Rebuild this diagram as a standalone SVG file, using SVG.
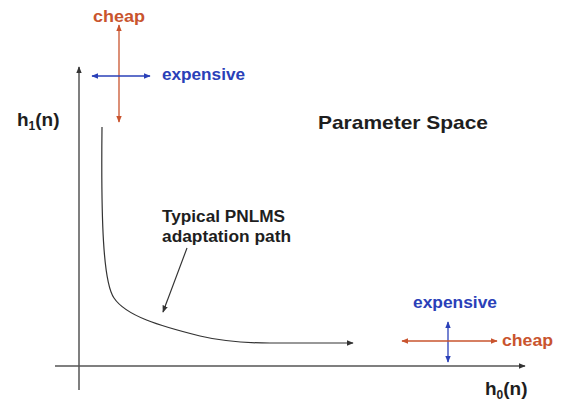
<svg xmlns="http://www.w3.org/2000/svg" width="570" height="402" viewBox="0 0 570 402">
<style>
text{font-family:"Liberation Sans",Arial,sans-serif;font-weight:bold}
.blk{fill:#1e1e1e}
.red{fill:#c9542e}
.blu{fill:#2a40b8}
.ax{stroke:#555;stroke-width:1.5;fill:none}
.cur{stroke:#333;stroke-width:1.2;fill:none}
.ra{stroke:#c9542e;stroke-width:1.3;fill:none}
.ba{stroke:#2a40b8;stroke-width:1.3;fill:none}
</style>
<defs>
<marker id="mk" viewBox="0 0 10 10" refX="9" refY="5" markerWidth="7" markerHeight="7" markerUnits="userSpaceOnUse" orient="auto-start-reverse"><path d="M0,1 L10,5 L0,9 z" fill="#333"/></marker>
<marker id="mr" viewBox="0 0 10 10" refX="9" refY="5" markerWidth="7" markerHeight="7" markerUnits="userSpaceOnUse" orient="auto-start-reverse"><path d="M0,1 L10,5 L0,9 z" fill="#c9542e"/></marker>
<marker id="mb" viewBox="0 0 10 10" refX="9" refY="5" markerWidth="7" markerHeight="7" markerUnits="userSpaceOnUse" orient="auto-start-reverse"><path d="M0,1 L10,5 L0,9 z" fill="#2a40b8"/></marker>
</defs>
<rect width="570" height="402" fill="#fff"/>
<g id="connectors">
<line class="ax" x1="79" y1="390" x2="79" y2="67" marker-end="url(#mk)"/>
<line class="ax" x1="55" y1="366" x2="525" y2="366" marker-end="url(#mk)"/>
<path class="cur" d="M102,127 C101,220 103,282 114,298 C126,316 160,326 200,336 C225,342 245,343 270,343 L353,343" marker-end="url(#mk)"/>
<line class="cur" x1="187" y1="248" x2="163" y2="312" marker-end="url(#mk)"/>
<line class="ra" x1="119" y1="25" x2="119" y2="122" marker-start="url(#mr)" marker-end="url(#mr)"/>
<line class="ba" x1="92" y1="76" x2="150" y2="76" marker-start="url(#mb)" marker-end="url(#mb)"/>
<line class="ba" x1="448" y1="322" x2="448" y2="362" marker-start="url(#mb)" marker-end="url(#mb)"/>
<line class="ra" x1="402" y1="341" x2="497" y2="341" marker-start="url(#mr)" marker-end="url(#mr)"/>
</g>
<g id="top-cheap"><text class="red" x="93" y="22" font-size="17" textLength="52" lengthAdjust="spacingAndGlyphs">cheap</text></g>
<g id="top-expensive"><text class="blu" x="162" y="80" font-size="17" textLength="83" lengthAdjust="spacingAndGlyphs">expensive</text></g>
<g id="h1-label"><text class="blk" x="17" y="126" font-size="19">h<tspan font-size="12" dy="4">1</tspan><tspan dy="-4">(n)</tspan></text></g>
<g id="param-space"><text class="blk" x="318" y="129" font-size="19" textLength="170" lengthAdjust="spacingAndGlyphs">Parameter Space</text></g>
<g id="path-label">
<text class="blk" x="162" y="222" font-size="16" textLength="123" lengthAdjust="spacingAndGlyphs">Typical PNLMS</text>
<text class="blk" x="162" y="242" font-size="16" textLength="129" lengthAdjust="spacingAndGlyphs">adaptation path</text>
</g>
<g id="bottom-expensive"><text class="blu" x="413" y="308" font-size="17" textLength="84" lengthAdjust="spacingAndGlyphs">expensive</text></g>
<g id="bottom-cheap"><text class="red" x="502" y="346" font-size="17" textLength="51" lengthAdjust="spacingAndGlyphs">cheap</text></g>
<g id="h0-label"><text class="blk" x="485" y="395" font-size="19">h<tspan font-size="12" dy="4">0</tspan><tspan dy="-4">(n)</tspan></text></g>
</svg>
